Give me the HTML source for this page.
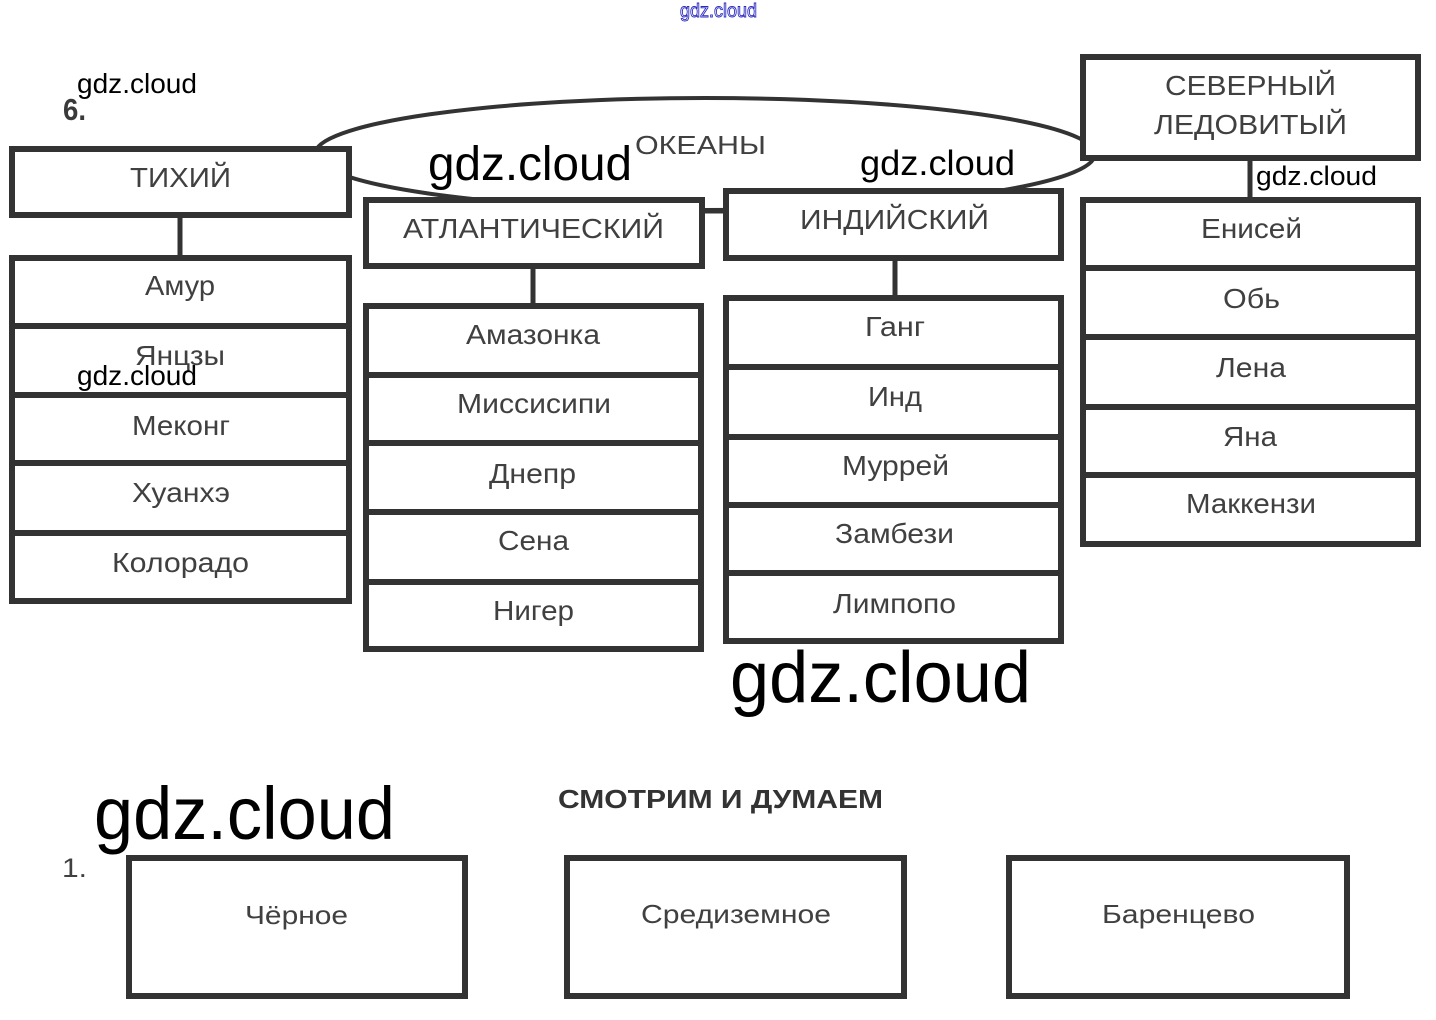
<!DOCTYPE html>
<html><head><meta charset="utf-8"><style>
html,body{margin:0;padding:0;background:#fff;}
svg{display:block;}
.l{font-family:"Liberation Sans",sans-serif;fill:#404040;}
.w{font-family:"Liberation Sans",sans-serif;fill:#000;}
</style></head><body>
<svg width="1436" height="1020" viewBox="0 0 1436 1020" xmlns="http://www.w3.org/2000/svg">
<rect width="1436" height="1020" fill="#fff"/>
<!-- ellipse -->
<ellipse cx="705" cy="154" rx="390" ry="56" fill="none" stroke="#333" stroke-width="4"/>
<g fill="#fff" stroke="#333" stroke-width="6">
<!-- Pacific -->
<rect x="12" y="149" width="337" height="66"/>
<rect x="12" y="258" width="337" height="343"/>
<!-- Atlantic -->
<rect x="366" y="200" width="336" height="66"/>
<rect x="366" y="306" width="335" height="343"/>
<!-- Indian -->
<rect x="726" y="191" width="335" height="67"/>
<rect x="726" y="298" width="335" height="343"/>
<!-- Arctic -->
<rect x="1083" y="57" width="335" height="101"/>
<rect x="1083" y="200" width="335" height="344"/>
<!-- bottom -->
<rect x="129" y="858" width="336" height="138"/>
<rect x="567" y="858" width="337" height="138"/>
<rect x="1009" y="858" width="338" height="138"/>
</g>
<g stroke="#333" stroke-width="6">
<line x1="9" y1="326" x2="352" y2="326"/>
<line x1="9" y1="395" x2="352" y2="395"/>
<line x1="9" y1="463" x2="352" y2="463"/>
<line x1="9" y1="533" x2="352" y2="533"/>
<line x1="363" y1="375" x2="704" y2="375"/>
<line x1="363" y1="443" x2="704" y2="443"/>
<line x1="363" y1="512" x2="704" y2="512"/>
<line x1="363" y1="582" x2="704" y2="582"/>
<line x1="723" y1="367" x2="1064" y2="367"/>
<line x1="723" y1="437" x2="1064" y2="437"/>
<line x1="723" y1="505" x2="1064" y2="505"/>
<line x1="723" y1="573" x2="1064" y2="573"/>
<line x1="1080" y1="268" x2="1421" y2="268"/>
<line x1="1080" y1="337" x2="1421" y2="337"/>
<line x1="1080" y1="407" x2="1421" y2="407"/>
<line x1="1080" y1="475" x2="1421" y2="475"/>
</g>
<g stroke="#333" stroke-width="5">
<line x1="180" y1="218" x2="180" y2="256"/>
<line x1="533" y1="269" x2="533" y2="304"/>
<line x1="895" y1="261" x2="895" y2="296"/>
<line x1="1250" y1="161" x2="1250" y2="198"/>
<line x1="705" y1="211" x2="723" y2="211"/>
</g>
<!-- labels -->
<g class="l" font-size="28" lengthAdjust="spacingAndGlyphs">
<text x="130" y="187" textLength="101" lengthAdjust="spacingAndGlyphs">ТИХИЙ</text>
<text x="403" y="238" textLength="261" lengthAdjust="spacingAndGlyphs">АТЛАНТИЧЕСКИЙ</text>
<text x="800" y="229" textLength="189" lengthAdjust="spacingAndGlyphs">ИНДИЙСКИЙ</text>
<text x="1165" y="95" textLength="171" lengthAdjust="spacingAndGlyphs">СЕВЕРНЫЙ</text>
<text x="1154" y="134" textLength="193" lengthAdjust="spacingAndGlyphs">ЛЕДОВИТЫЙ</text>
<text x="635" y="154" font-size="26" textLength="131" lengthAdjust="spacingAndGlyphs">ОКЕАНЫ</text>
<text x="145" y="295" textLength="70" lengthAdjust="spacingAndGlyphs">Амур</text>
<text x="135" y="365" textLength="90" lengthAdjust="spacingAndGlyphs">Янцзы</text>
<text x="132" y="435" textLength="98" lengthAdjust="spacingAndGlyphs">Меконг</text>
<text x="132" y="502" textLength="98" lengthAdjust="spacingAndGlyphs">Хуанхэ</text>
<text x="112" y="572" textLength="137" lengthAdjust="spacingAndGlyphs">Колорадо</text>
<text x="466" y="344" textLength="134" lengthAdjust="spacingAndGlyphs">Амазонка</text>
<text x="457" y="413" textLength="154" lengthAdjust="spacingAndGlyphs">Миссисипи</text>
<text x="489" y="483" textLength="87" lengthAdjust="spacingAndGlyphs">Днепр</text>
<text x="498" y="550" textLength="71" lengthAdjust="spacingAndGlyphs">Сена</text>
<text x="493" y="620" textLength="81" lengthAdjust="spacingAndGlyphs">Нигер</text>
<text x="865" y="336" textLength="60" lengthAdjust="spacingAndGlyphs">Ганг</text>
<text x="868" y="406" textLength="54" lengthAdjust="spacingAndGlyphs">Инд</text>
<text x="842" y="475" textLength="107" lengthAdjust="spacingAndGlyphs">Муррей</text>
<text x="835" y="543" textLength="119" lengthAdjust="spacingAndGlyphs">Замбези</text>
<text x="833" y="613" textLength="123" lengthAdjust="spacingAndGlyphs">Лимпопо</text>
<text x="1201" y="238" textLength="101" lengthAdjust="spacingAndGlyphs">Енисей</text>
<text x="1223" y="308" textLength="57" lengthAdjust="spacingAndGlyphs">Обь</text>
<text x="1216" y="377" textLength="70" lengthAdjust="spacingAndGlyphs">Лена</text>
<text x="1223" y="446" textLength="54" lengthAdjust="spacingAndGlyphs">Яна</text>
<text x="1186" y="513" textLength="130" lengthAdjust="spacingAndGlyphs">Маккензи</text>
<text x="245" y="924" font-size="26" textLength="103" lengthAdjust="spacingAndGlyphs">Чёрное</text>
<text x="641" y="923" font-size="26" textLength="190" lengthAdjust="spacingAndGlyphs">Средиземное</text>
<text x="1102" y="923" font-size="26" textLength="153" lengthAdjust="spacingAndGlyphs">Баренцево</text>
<text x="558" y="808" font-size="26" font-weight="bold" fill="#333" textLength="325" lengthAdjust="spacingAndGlyphs">СМОТРИМ И ДУМАЕМ</text>
<text x="63" y="120" font-size="31" font-weight="bold" fill="#3a3a3a" textLength="23" lengthAdjust="spacingAndGlyphs">6.</text>
<text x="62" y="877" font-size="27" textLength="25" lengthAdjust="spacingAndGlyphs">1.</text>
</g>
<!-- watermarks -->
<g class="w">
<text x="77" y="93" font-size="28" textLength="120" lengthAdjust="spacingAndGlyphs">gdz.cloud</text>
<text x="428" y="180" font-size="48" textLength="204" lengthAdjust="spacingAndGlyphs">gdz.cloud</text>
<text x="860" y="175" font-size="35" textLength="155" lengthAdjust="spacingAndGlyphs">gdz.cloud</text>
<text x="1256" y="185" font-size="27" textLength="121" lengthAdjust="spacingAndGlyphs">gdz.cloud</text>
<text x="77" y="385" font-size="28" textLength="120" lengthAdjust="spacingAndGlyphs">gdz.cloud</text>
<text x="730" y="702" font-size="72" textLength="301" lengthAdjust="spacingAndGlyphs">gdz.cloud</text>
<text x="94" y="839" font-size="74" textLength="301" lengthAdjust="spacingAndGlyphs">gdz.cloud</text>
</g>
<text x="680" y="17" font-family="Liberation Sans, sans-serif" font-size="19" fill="#fff" stroke="#2a2ac0" stroke-width="0.9" textLength="77" lengthAdjust="spacingAndGlyphs">gdz.cloud</text>
</svg>
</body></html>
